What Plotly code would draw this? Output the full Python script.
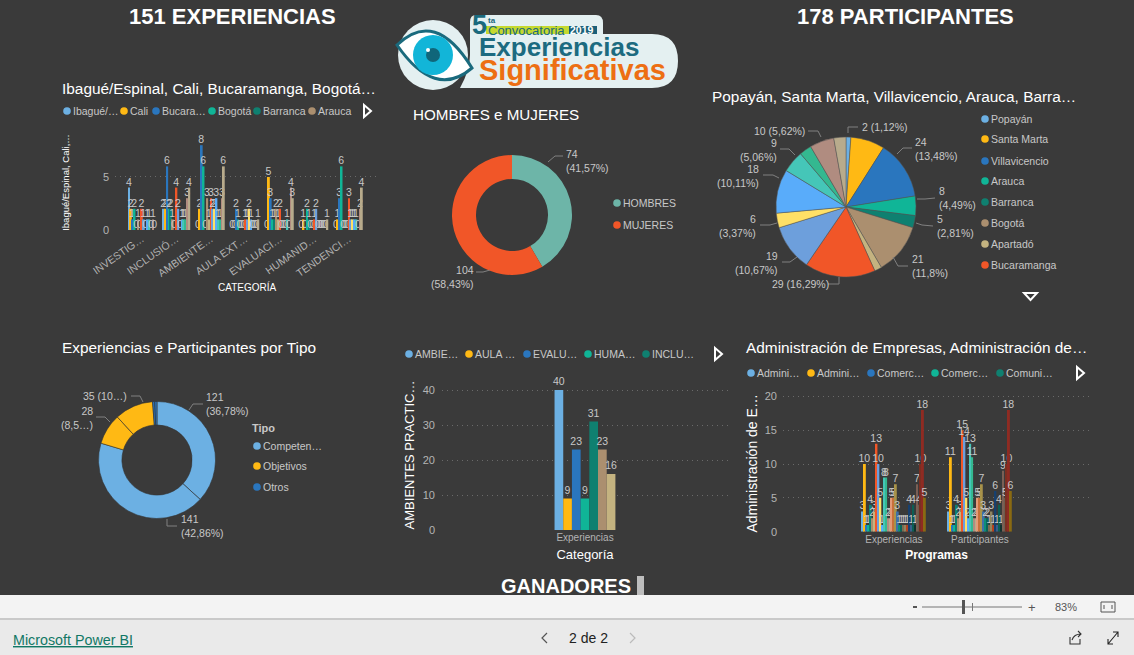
import plotly.graph_objects as go

W, H = 1134, 655
BG = '#3a3a3a'
FONT = 'Liberation Sans'

# palette used by the report, in series order
colores = ['#6cb0e3', '#ffb914', '#2a76be', '#10b597', '#0f8070', '#ab8f6f', '#c4b380', '#f15628',
           '#6d9fdc', '#ffe066', '#59acfa', '#45c6b8', '#34b890', '#b08c80', '#b8ab8c']
colores_osc = ['#e39a78', '#c8703a', '#a8934a', '#3f70a8', '#0d8f78', '#0b6458', '#7c6a52', '#8f8560',
               '#b5421e', '#17406f', '#3a5f8a', '#0c5f54', '#12332e', '#7a5f55', '#6b5d4c', '#7a2f22',
               '#8f2b22', '#8a6a12']

# Ibague/Espinal... chart
cat_ciudades = ['INVESTIG…', 'INCLUSIÓ…', 'AMBIENTE…', 'AULA EXT…', 'EVALUACI…', 'HUMANID…', 'TENDENCI…']
nombres_ciudades = ['Ibagué/Espinal', 'Cali', 'Bucaramanga', 'Bogotá', 'Barranca', 'Arauca', 'Apartadó',
                    'Popayán', 'Santa Marta', 'Villavicencio', 'Pasto', 'Neiva', 'Tunja', 'Medellín', 'Otras']
investig = [4, 2, 1, 2, 0, 1, 0, 2, 1, 0, 1, 1, 0, 1, 0]
inclusio = [2, 2, 6, 2, 2, 1, 0, 4, 2, 0, 1, 1, 1, 3, 4]
ambiente = [0, 2, 8, 6, 0, 3, 1, 3, 2, 2, 3, 1, 1, 3, 6]
aula_ext = [0, 0, 2, 1, 0, 0, 0, 1, 1, 2, 1, 0, 0, 0, 1]
evaluaci = [0, 5, 3, 1, 1, 2, 1, 2, 0, 0, 0, 1, 0, 4, 3]
humanid = [0, 1, 0, 2, 1, 0, 0, 1, 2, 0, 0, 0, 0, 0, 1]
tendenci = [0, 1, 3, 6, 0, 0, 0, 3, 1, 1, 1, 1, 0, 2, 4]
valores_ciudades = [investig, inclusio, ambiente, aula_ext, evaluaci, humanid, tendenci]

# gender donut
generos = ['HOMBRES', 'MUJERES']
generos_val = [74, 104]
generos_txt = ['74<br>(41,57%)', '104<br>(58,43%)']

# participants by city
ciudades_pie = ['Popayán', 'Santa Marta', 'Villavicencio', 'Arauca', 'Barranca', 'Bogotá', 'Apartadó',
                'Bucaramanga', 'Cali', 'Cartagena', 'Ibagué', 'Manizales', 'Neiva', 'Pasto', 'Tunja']
ciudades_pie_val = [2, 14, 24, 8, 5, 21, 3, 29, 19, 6, 18, 9, 5, 10, 5]
ciudades_pie_txt = ['2 (1,12%)', '24<br>(13,48%)', '8<br>(4,49%)', '5<br>(2,81%)', '21<br>(11,8%)',
                    '29 (16,29%)', '19<br>(10,67%)', '6<br>(3,37%)', '18<br>(10,11%)', '9<br>(5,06%)',
                    '10 (5,62%)']

# tipo donut
tipos = ['Competencias (part.)', 'Competencias (exp.)', 'Objetivos (exp.)', 'Objetivos (part.)', 'Otros (exp.)', 'Otros (part.)']
tipos_val = [121, 141, 28, 35, 2, 2]
tipos_col = ['#6cb0e3', '#6cb0e3', '#ffb914', '#ffb914', '#2a76be', '#2a76be']
tipos_txt = ['121<br>(36,78%)', '141<br>(42,86%)', '28<br>(8,5…)', '35 (10…)']

# ambientes bars
nombres_amb = ['AMBIENTES', 'AULA EXTENDIDA', 'EVALUACIÓN', 'HUMANIDADES', 'INCLUSIÓN', 'INVESTIGACIÓN', 'TENDENCIAS']
valores_amb = [40, 9, 23, 9, 31, 23, 16]

# programas bars
cat_programas = ['Experiencias', 'Participantes']
prog_exp = [3, 10, 1, 1, 4, 2, 3, 13, 10, 5, 1, 8, 8, 2, 2, 5, 5, 7, 3, 1, 1, 1, 1, 1, 4, 1, 4, 1, 7, 4, 10, 18, 5]
prog_part = [3, 11, 1, 1, 4, 2, 3, 15, 14, 5, 2, 13, 11, 2, 2, 5, 5, 7, 3, 2, 2, 1, 3, 1, 6, 1, 4, 1, 9, 5, 10, 18, 6]

fig = go.Figure()


def caja(x0, x1, y0, y1):
    return dict(x=[x0 / W, x1 / W], y=[1 - y1 / H, 1 - y0 / H])


etiq = dict(textposition='outside', cliponaxis=False, constraintext='none', textangle=0,
            textfont=dict(size=10.5, color='#c8c8c8'))

# ---- bars
for i in range(len(nombres_ciudades)):
    vals = [fila[i] for fila in valores_ciudades]
    fig.add_bar(x=cat_ciudades, y=vals, name=nombres_ciudades[i], marker=dict(color=colores[i], line_width=0),
                text=vals, xaxis='x', yaxis='y', **etiq)

# the second and third bar charts sit in one subplot group, so their bar slots are set by hand
for i, v in enumerate(valores_amb):
    fig.add_bar(x=['Experiencias'], y=[v], name=nombres_amb[i], marker=dict(color=colores[i], line_width=0),
                text=[v], xaxis='x2', yaxis='y2', width=0.0304, offset=-0.1065 + 0.0304 * i, **etiq)

col_prog = colores + colores_osc
for i in range(len(prog_exp)):
    fig.add_bar(x=cat_programas, y=[prog_exp[i], prog_part[i]], name='Programa %d' % (i + 1),
                marker=dict(color=col_prog[i], line_width=0), text=[prog_exp[i], prog_part[i]],
                xaxis='x3', yaxis='y3', width=0.0225, offset=-0.372 + 0.0225 * i, **etiq)

# ---- pies
fig.add_pie(labels=generos, values=generos_val, hole=0.6, sort=False, direction='clockwise', rotation=0,
            marker=dict(colors=['#6db5a8', '#f15628'], line=dict(width=0)), textinfo='none',
            domain=caja(452, 572, 155, 275), showlegend=False)
fig.add_pie(labels=ciudades_pie, values=ciudades_pie_val, sort=False, direction='clockwise', rotation=0,
            marker=dict(colors=colores, line=dict(width=0.5, color='#555555')), textinfo='none',
            domain=caja(776, 916, 137, 277), showlegend=False)
fig.add_pie(labels=tipos, values=tipos_val, hole=0.6, sort=False, direction='clockwise', rotation=0,
            marker=dict(colors=tipos_col, line=dict(width=0.6, color='#333333')), textinfo='none',
            domain=caja(98.5, 215.5, 401.5, 518.5), showlegend=False)

rejilla = dict(showgrid=True, gridcolor='#6a6a6a', griddash='1px,4px', gridwidth=1, zeroline=False, showline=False,
               tickfont=dict(size=11, color='#b4b4b4'), ticks='', automargin=False)
eje_x = dict(type='category', showgrid=False, ticks='', showline=False, zeroline=False, automargin=False)

d1 = caja(115, 380, 135, 230)
d2 = caja(442, 728, 380, 530)
d3 = caja(783, 1090, 395, 531.7)

fig.update_layout(
    template='none',
    width=W, height=H, margin=dict(l=0, r=0, t=0, b=0), paper_bgcolor=BG, plot_bgcolor='rgba(0,0,0,0)',
    barmode='group', bargap=0.2, showlegend=False, font=dict(family=FONT, color='#c8c8c8'),
    xaxis=dict(domain=d1['x'], anchor='y', range=[-0.78, 6.9], tickangle=-35, **eje_x,
               tickfont=dict(size=10.5, color='#b4b4b4')),
    yaxis=dict(domain=d1['y'], anchor='x', range=[0, 8.96], tickvals=[0, 5], ticklabelstandoff=5, **rejilla,
               title=dict(text='Ibagué/Espinal, Cali,…', font=dict(size=9.5, color='white'), standoff=31)),
    xaxis2=dict(domain=d2['x'], anchor='y2', range=[-0.5, 0.5], **eje_x,
                tickfont=dict(size=10, color='#b4b4b4'),
                title=dict(text='Categoría', font=dict(size=13, color='white'), standoff=7)),
    yaxis2=dict(domain=d2['y'], anchor='x2', range=[0, 42.86], tickvals=[0, 10, 20, 30, 40], ticklabelstandoff=6, **rejilla,
                title=dict(text='AMBIENTES PRACTIC…', font=dict(size=13, color='white'), standoff=5)),
    xaxis3=dict(domain=d3['x'], anchor='y3', range=[-1.29, 2.28], **eje_x,
                tickfont=dict(size=10, color='#b4b4b4'),
                title=dict(text='<b>Programas</b>', font=dict(size=12, color='white'), standoff=6)),
    yaxis3=dict(domain=d3['y'], anchor='x3', range=[0, 20.2], tickvals=[0, 5, 10, 15, 20], ticklabelstandoff=5, **rejilla,
                title=dict(text='Administración de E…', font=dict(size=14, color='white'), standoff=3)),
    # full page axes so the report furniture can be placed in page pixels
    xaxis9=dict(domain=[0, 1], range=[0, W], visible=False, anchor='y9', fixedrange=True, automargin=False),
    yaxis9=dict(domain=[0, 1], range=[H, 0], visible=False, anchor='x9', fixedrange=True, automargin=False),
)
fig.add_scatter(x=[0], y=[0], xaxis='x9', yaxis='y9', mode='markers', marker=dict(opacity=0), showlegend=False, hoverinfo='skip')

formas = []
notas = []


def nota(x, y, txt, size=11, color='#c8c8c8', anchor='left', bold=False, family=FONT, yanchor='middle', align=None):
    notas.append(dict(x=x, y=y, xref='x9', yref='y9', text='<b>%s</b>' % txt if bold else txt, showarrow=False,
                      xanchor=anchor, yanchor=yanchor, font=dict(size=size, color=color, family=family),
                      align=align or anchor, borderpad=0, borderwidth=0))


def forma(path=None, fill=None, line=None, lw=1, **kw):
    d = dict(xref='x9', yref='y9', layer='above', line=dict(width=lw if line else 0, color=line or 'rgba(0,0,0,0)'),
             fillcolor=fill or 'rgba(0,0,0,0)')
    if path:
        d.update(type='path', path=path)
    d.update(kw)
    formas.append(d)


def circulo(cx, cy, r, fill, line=None, lw=1):
    forma(type='circle', x0=cx - r, x1=cx + r, y0=cy - r, y1=cy + r, fill=fill, line=line, lw=lw)


def rect(x0, y0, x1, y1, fill):
    forma(type='rect', x0=x0, x1=x1, y0=y0, y1=y1, fill=fill)


def guia(puntos):
    p = 'M ' + ' L '.join('%s %s' % q for q in puntos)
    forma(p, line='#808080', lw=1)


def leyenda(etiquetas, cols, xs, ys, size=10.5):
    for e, c, x, y in zip(etiquetas, cols, xs, ys):
        circulo(x, y, 3.8, c)
        nota(x + 6, y, e, size=size)


def flecha_der(x, y):
    forma('M %s %s L %s %s L %s %s Z' % (x, y - 6, x + 7, y, x, y + 6), line='white', lw=2)


# page titles
nota(232, 16, '151 EXPERIENCIAS', size=22, color='white', anchor='center', bold=True)
nota(905, 16, '178 PARTICIPANTES', size=22, color='white', anchor='center', bold=True)
nota(566, 586, 'GANADORES', size=20, color='white', anchor='center', bold=True)
rect(637, 576, 644, 595, '#bdbdbd')

# visual titles
nota(62, 88, 'Ibagué/Espinal, Cali, Bucaramanga, Bogotá…', size=15.4, color='white')
nota(413, 114, 'HOMBRES e MUJERES', size=15.2, color='white')
nota(712, 96, 'Popayán, Santa Marta, Villavicencio, Arauca, Barra…', size=15.4, color='white')
nota(62, 347, 'Experiencias e Participantes por Tipo', size=15.4, color='white')
nota(746, 347, 'Administración de Empresas, Administración de…', size=15.4, color='white')
nota(247, 287, 'CATEGORÍA', size=10, color='white', anchor='center')

# legends
leyenda(['Ibagué/…', 'Cali', 'Bucara…', 'Bogotá', 'Barranca', 'Arauca'], colores,
        [67, 124, 156, 212, 257, 312], [111] * 6)
flecha_der(364, 111)
leyenda(['AMBIE…', 'AULA …', 'EVALU…', 'HUMA…', 'INCLU…'], colores, [409, 469, 527, 588, 646], [354] * 5)
flecha_der(715, 354)
leyenda(['Admini…', 'Admini…', 'Comerc…', 'Comerc…', 'Comuni…'], colores, [751, 811, 871, 935, 1000], [373] * 5)
flecha_der(1077, 373)
leyenda(ciudades_pie[:8], colores, [985] * 8, [119, 139, 161, 181, 202, 223, 244, 265])
forma('M 1024 293 L 1037 293 L 1030.5 300 Z', line='white', lw=2)
leyenda(generos, ['#6db5a8', '#f15628'], [617, 617], [203, 225])
nota(252, 428, 'Tipo', size=11, bold=True)
leyenda(['Competen…', 'Objetivos', 'Otros'], ['#6cb0e3', '#ffb914', '#2a76be'], [257] * 3, [446, 466, 487])

# donut and pie data labels with their leader lines
nota(566, 161, generos_txt[0], size=10.5)
guia([(548, 162), (555, 156), (563, 156)])
nota(474, 277, generos_txt[1], size=10.5, anchor='right')
guia([(490, 270), (483, 272), (476, 272)])

etq_x = [862, 915, 939, 937, 912, 772, 778, 756, 759, 777, 805]
etq_y = [127, 149, 198, 226, 266, 284, 263, 226, 176, 150, 131]
etq_a = ['left', 'left', 'left', 'left', 'left', 'left', 'right', 'right', 'right', 'right', 'right']
for x, y, t, a in zip(etq_x, etq_y, ciudades_pie_txt, etq_a):
    nota(x, y, t, size=10.5, anchor=a)
for g in [[(848, 133), (848, 127), (858, 127)], [(897, 154), (903, 148), (912, 148)],
          [(917, 199), (925, 199), (935, 198)], [(916, 223), (922, 225), (933, 226)],
          [(893, 257), (898, 266), (908, 266)], [(839, 277), (839, 284), (828, 284)],
          [(797, 257), (790, 262), (782, 262)], [(777, 223), (770, 225), (760, 225)],
          [(779, 178), (773, 175), (763, 175)], [(795, 155), (789, 149), (780, 149)],
          [(821, 137), (818, 131), (808, 131)]]:
    guia(g)

nota(206, 404, tipos_txt[0], size=10.5)
nota(181, 526, tipos_txt[1], size=10.5)
nota(93, 418, tipos_txt[2], size=10.5, anchor='right')
nota(127, 396, tipos_txt[3], size=10.5, anchor='right')
for g in [[(189, 410), (193, 404), (203, 404)], [(167, 519), (167, 526), (177, 526)],
          [(110, 422), (105, 417), (96, 417)], [(143, 402), (140, 396), (131, 396)]]:
    guia(g)

# logo
circulo(433, 55, 35, '#e4f0f1')
forma('M 476 15 L 596 15 Q 603 15 603 23 L 603 34 L 652 34 Q 678 34 678 61 Q 678 88 652 88 L 460 88 '
      'Q 470 70 470 55 L 470 22 Q 470 15 476 15 Z', fill='#e4f0f1')
forma('M 397 45 Q 435 8 472 68 Q 435 100 397 45 Z', fill='white', line='#1a6a7d', lw=3)
circulo(433, 55, 20, '#12b5d8')
forma('M 433 35 A 20 20 0 0 1 433 75 Z', fill='#c6d92e')
circulo(433, 55, 7, '#10667a')
circulo(428, 50, 2, 'white')
rect(486, 26, 569, 34, '#c5d92f')
rect(569, 26, 597, 34, '#1a5f78')
nota(472, 25, '5', size=27, color='#1a6a7d', bold=True)
nota(488, 20, 'ta', size=8, color='#1a6a7d', bold=True)
nota(488, 30, 'Convocatoria', size=13, color='#1a6a7d')
nota(570, 30, '2019', size=10.5, color='white', bold=True)
nota(479, 47, 'Experiencias', size=26, color='#1c6b80', bold=True)
nota(479, 70, 'Significativas', size=29, color='#ed6f13', bold=True)

# Power BI footer
rect(0, 595, W, 618, '#f3f3f3')
rect(0, 618, W, 620, '#c9c9c9')
rect(0, 620, W, H, '#eaeaea')
rect(913, 606, 917, 608, '#555555')
rect(922, 606.5, 1022, 607.5, '#777777')
rect(962, 600, 965, 614, '#555555')
rect(972, 603, 973, 611, '#777777')
nota(1032, 607, '+', size=13, color='#555555', anchor='center')
nota(1066, 607, '83%', size=11, color='#555555', anchor='center')
forma('M 1101 602 L 1115 602 L 1115 612 L 1101 612 Z', line='#555555', lw=1)
forma('M 1104 605 L 1104 609 M 1112 605 L 1112 609', line='#555555', lw=1)
nota(13, 640, '<u>Microsoft Power BI</u>', size=14.3, color='#117865')
nota(588, 638, '2 de 2', size=14, color='#222222', anchor='center')
forma('M 547 633 L 542 638 L 547 643', line='#555555', lw=1.2)
forma('M 630 633 L 635 638 L 630 643', line='#bbbbbb', lw=1.2)
forma('M 1070 637 L 1070 644 L 1080 644 L 1080 639 M 1072 640 Q 1074 634 1081 634 M 1078 631 L 1081 634 L 1078 637',
      line='#333333', lw=1.1)
forma('M 1108 644 L 1118 632 M 1113 632 L 1118 632 L 1118 637 M 1108 639 L 1108 644 L 1113 644', line='#222222', lw=1.1)

fig.update_layout(shapes=formas, annotations=notas)
fig.write_html('out.html', config=dict(displayModeBar=False),
               post_script="document.body.style.margin='0';document.body.style.overflow='hidden';")
